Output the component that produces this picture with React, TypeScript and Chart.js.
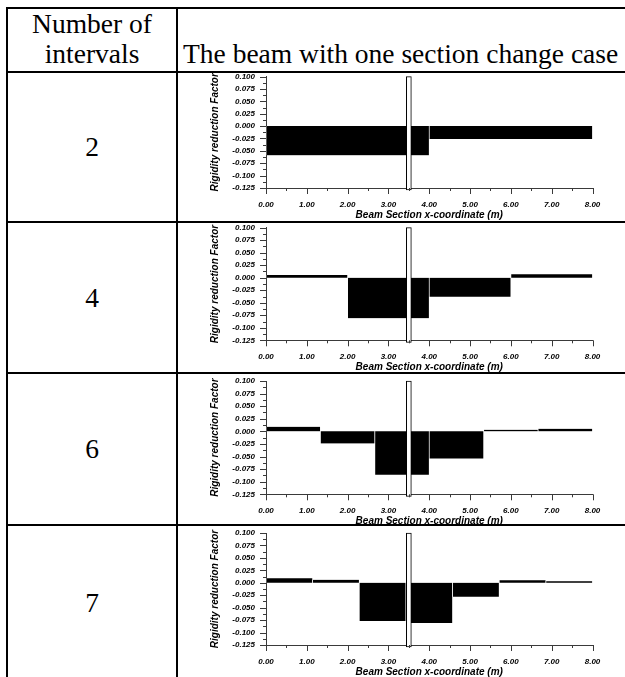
import React, { useEffect, useRef } from "react";
import { Chart, registerables } from "chart.js";

Chart.register(...registerables);

// ---------------- data ----------------
const beamLength = 8;
const sectionChangeX = 3.5;
const sectionMarkerRange: [number, number] = [-0.129, 0.1];
const intervalLabels = ["2", "4", "6", "7"];
const factors2 = [-0.059, -0.026];
const factors4 = [0.0055, -0.081, -0.038, 0.007];
const factors6 = [0.009, -0.024, -0.086, -0.054, 0.003, 0.005];
const factors7 = [0.009, 0.006, -0.077, -0.081, -0.028, 0.005, 0.003];
const rowFactors = [factors2, factors4, factors6, factors7];
const yMin = -0.125;
const yMax = 0.1;
const yMajorStep = 0.025;
const xMin = 0;
const xMax = 8;
const xMajorStep = 1;
const headerLeftLines = ["Number of", "intervals"];
const headerRight = "The beam with one section change case";
const xAxisTitle = "Beam Section x-coordinate (m)";
const yAxisTitle = "Rigidity reduction Factor";

// ---------------- layout / style ----------------
const LINE = 2;
const LEFT_BORDER = 6;
const TOP_BORDER = 7;
const DIVIDER_X = 176;
const rowLineYs = [71, 221, 372, 524];
const TABLE_BOTTOM = 679;
const plotTops = [76.6, 227.7, 381, 533];
const axisYs = [188, 340.3, 494.3, 645];
const CANVAS_LEFT = 178;
const CANVAS_W = 447;
const Y_AXIS_X = 266;
const X_AXIS_END = 592.5;
const AXIS_COLOR = "#3a3a3a";
const TABLE_FONT_SIZE = 27.5;
const SERIF = '"Liberation Serif", "Times New Roman", Times, serif';
const SANS = '"Liberation Sans", Arial, Helvetica, sans-serif';

Chart.defaults.font.family = SANS;

const tickMarks = {
  id: "tickMarks",
  afterDraw(chart: any) {
    const { ctx, chartArea } = chart;
    const xs = chart.scales.x;
    const ys = chart.scales.y;
    ctx.save();
    ctx.strokeStyle = AXIS_COLOR;
    ctx.lineWidth = 1;
    ctx.beginPath();
    const nx = Math.round((xMax - xMin) / (xMajorStep / 2));
    for (let i = 0; i <= nx; i++) {
      const v = xMin + (i * xMajorStep) / 2;
      const px = Math.round(xs.getPixelForValue(v)) + 0.5;
      const len = i % 2 === 0 ? 6 : 3;
      ctx.moveTo(px, chartArea.bottom);
      ctx.lineTo(px, chartArea.bottom + len);
    }
    const ny = Math.round((yMax - yMin) / (yMajorStep / 2));
    for (let i = 0; i <= ny; i++) {
      const v = yMin + (i * yMajorStep) / 2;
      const py = Math.round(ys.getPixelForValue(v)) + 0.5;
      const len = i % 2 === 0 ? 6 : 3;
      ctx.moveTo(chartArea.left, py);
      ctx.lineTo(chartArea.left - len, py);
    }
    ctx.stroke();
    ctx.restore();
  },
};

function RowChart({ r }: { r: number }) {
  const ref = useRef<HTMLCanvasElement | null>(null);
  const canvasTop = rowLineYs[r] + LINE;
  const plotTopLocal = plotTops[r] - canvasTop;
  const axisLocal = axisYs[r] - canvasTop;
  const height = Math.round(axisLocal + 33);

  useEffect(() => {
    if (!ref.current) return;
    const values = rowFactors[r];
    const w = beamLength / values.length;
    const bars = values.map((v, i) => ({ x: (i + 0.5) * w, y: v }));
    const tickFont = { size: 8, weight: "bold" as const, style: "italic" as const, family: SANS };
    const titleFont = { size: 10, weight: "bold" as const, style: "italic" as const, family: SANS };
    const hidden = {
      type: "linear" as const,
      display: false,
      min: xMin,
      max: xMax,
      offset: false,
      afterBuildTicks: (s: any) => {
        s.ticks = [{ value: xMin }, { value: xMax }];
      },
    };
    const chart = new Chart(ref.current, {
      type: "bar",
      data: {
        datasets: [
          {
            data: [{ x: sectionChangeX, y: sectionMarkerRange }] as any,
            xAxisID: "xm",
            yAxisID: "y",
            backgroundColor: "#ffffff",
            borderColor: "#000000",
            borderWidth: 1,
            borderSkipped: false,
            barThickness: 5,
            grouped: false,
            order: 0,
            clip: false as any,
          },
          {
            data: bars as any,
            xAxisID: "xb",
            yAxisID: "y",
            backgroundColor: "#000000",
            borderColor: "#ffffff",
            borderWidth: { left: 0.7, right: 0.7, top: 0, bottom: 0 } as any,
            borderSkipped: false,
            categoryPercentage: 1,
            barPercentage: 1,
            grouped: false,
            order: 1,
            clip: false as any,
          },
        ],
      },
      options: {
        animation: false,
        responsive: false,
        maintainAspectRatio: false,
        devicePixelRatio: 1,
        events: [],
        layout: {
          padding: {
            left: 0,
            right: CANVAS_W - (X_AXIS_END - CANVAS_LEFT),
            top: plotTopLocal,
            bottom: 0,
          },
        },
        plugins: {
          legend: { display: false },
          tooltip: { enabled: false },
          title: { display: false },
        },
        scales: {
          x: {
            type: "linear",
            position: "bottom",
            min: xMin,
            max: xMax,
            offset: false,
            z: 1,
            grid: { display: false, drawTicks: false },
            border: { display: true, color: AXIS_COLOR, width: 1 },
            ticks: {
              stepSize: xMajorStep,
              padding: 12,
              color: "#000",
              font: tickFont,
              maxRotation: 0,
              autoSkip: false,
              callback: (v: any) => Number(v).toFixed(2),
            },
            title: {
              display: true,
              text: xAxisTitle,
              color: "#000",
              font: titleFont,
              padding: { top: 0, bottom: 0 },
            },
            afterFit: (s: any) => {
              s.height = height - axisLocal;
              s.paddingLeft = 0;
              s.paddingRight = 0;
            },
          },
          xb: hidden,
          xm: hidden,
          y: {
            type: "linear",
            position: "left",
            min: yMin,
            max: yMax,
            z: 1,
            grid: { display: false, drawTicks: false },
            border: { display: true, color: AXIS_COLOR, width: 1 },
            ticks: {
              stepSize: yMajorStep,
              padding: 11,
              color: "#000",
              font: tickFont,
              autoSkip: false,
              callback: (v: any) => {
                const n = Number(v);
                return (Math.abs(n) < 1e-9 ? 0 : n).toFixed(3);
              },
            },
            title: {
              display: true,
              text: yAxisTitle,
              color: "#000",
              font: titleFont,
              padding: { top: 31, bottom: 0 },
            },
            afterFit: (s: any) => {
              s.width = Y_AXIS_X - CANVAS_LEFT;
              s.paddingTop = 0;
              s.paddingBottom = 0;
            },
          },
        } as any,
      },
      plugins: [tickMarks],
    });
    return () => chart.destroy();
  }, [r]);

  return (
    <canvas
      ref={ref}
      width={CANVAS_W}
      height={height}
      style={{ position: "absolute", left: CANVAS_LEFT, top: canvasTop, width: CANVAS_W, height }}
    />
  );
}

function HLine({ y }: { y: number }) {
  return (
    <div
      style={{ position: "absolute", left: LEFT_BORDER, top: y, width: 700, height: LINE, background: "#000" }}
    />
  );
}

function VLine({ x }: { x: number }) {
  return (
    <div
      style={{
        position: "absolute",
        left: x,
        top: TOP_BORDER,
        width: LINE,
        height: TABLE_BOTTOM - TOP_BORDER,
        background: "#000",
      }}
    />
  );
}

export default function App() {
  const rowBottoms = [...rowLineYs.slice(1), TABLE_BOTTOM];
  return (
    <div
      style={{
        position: "absolute",
        left: 0,
        top: 0,
        width: 625,
        height: 677,
        overflow: "hidden",
        background: "#fff",
        fontFamily: SERIF,
        color: "#000",
      }}
    >
      {/* header text */}
      <div
        style={{
          position: "absolute",
          left: LEFT_BORDER + LINE,
          width: DIVIDER_X - LEFT_BORDER - LINE,
          top: 9,
          fontSize: TABLE_FONT_SIZE,
          lineHeight: "30px",
          textAlign: "center",
          whiteSpace: "nowrap",
        }}
      >
        {headerLeftLines.map((t) => (
          <div key={t}>{t}</div>
        ))}
      </div>
      <div
        style={{
          position: "absolute",
          left: 183,
          top: 39,
          fontSize: TABLE_FONT_SIZE,
          lineHeight: "30px",
          whiteSpace: "nowrap",
        }}
      >
        {headerRight}
      </div>

      {/* interval count cells */}
      {intervalLabels.map((label, r) => (
        <div
          key={label}
          style={{
            position: "absolute",
            left: LEFT_BORDER + LINE,
            width: DIVIDER_X - LEFT_BORDER - LINE,
            top: rowLineYs[r] + LINE,
            height: rowBottoms[r] - rowLineYs[r] - LINE,
            display: "flex",
            alignItems: "center",
            justifyContent: "center",
            fontSize: TABLE_FONT_SIZE,
            lineHeight: "30px",
          }}
        >
          {label}
        </div>
      ))}

      {/* charts */}
      {intervalLabels.map((label, r) => (
        <RowChart key={"c" + label} r={r} />
      ))}

      {/* table lines */}
      <HLine y={TOP_BORDER} />
      {rowLineYs.map((y) => (
        <HLine key={"h" + y} y={y} />
      ))}
      <HLine y={TABLE_BOTTOM} />
      <VLine x={LEFT_BORDER} />
      <VLine x={DIVIDER_X} />
    </div>
  );
}
